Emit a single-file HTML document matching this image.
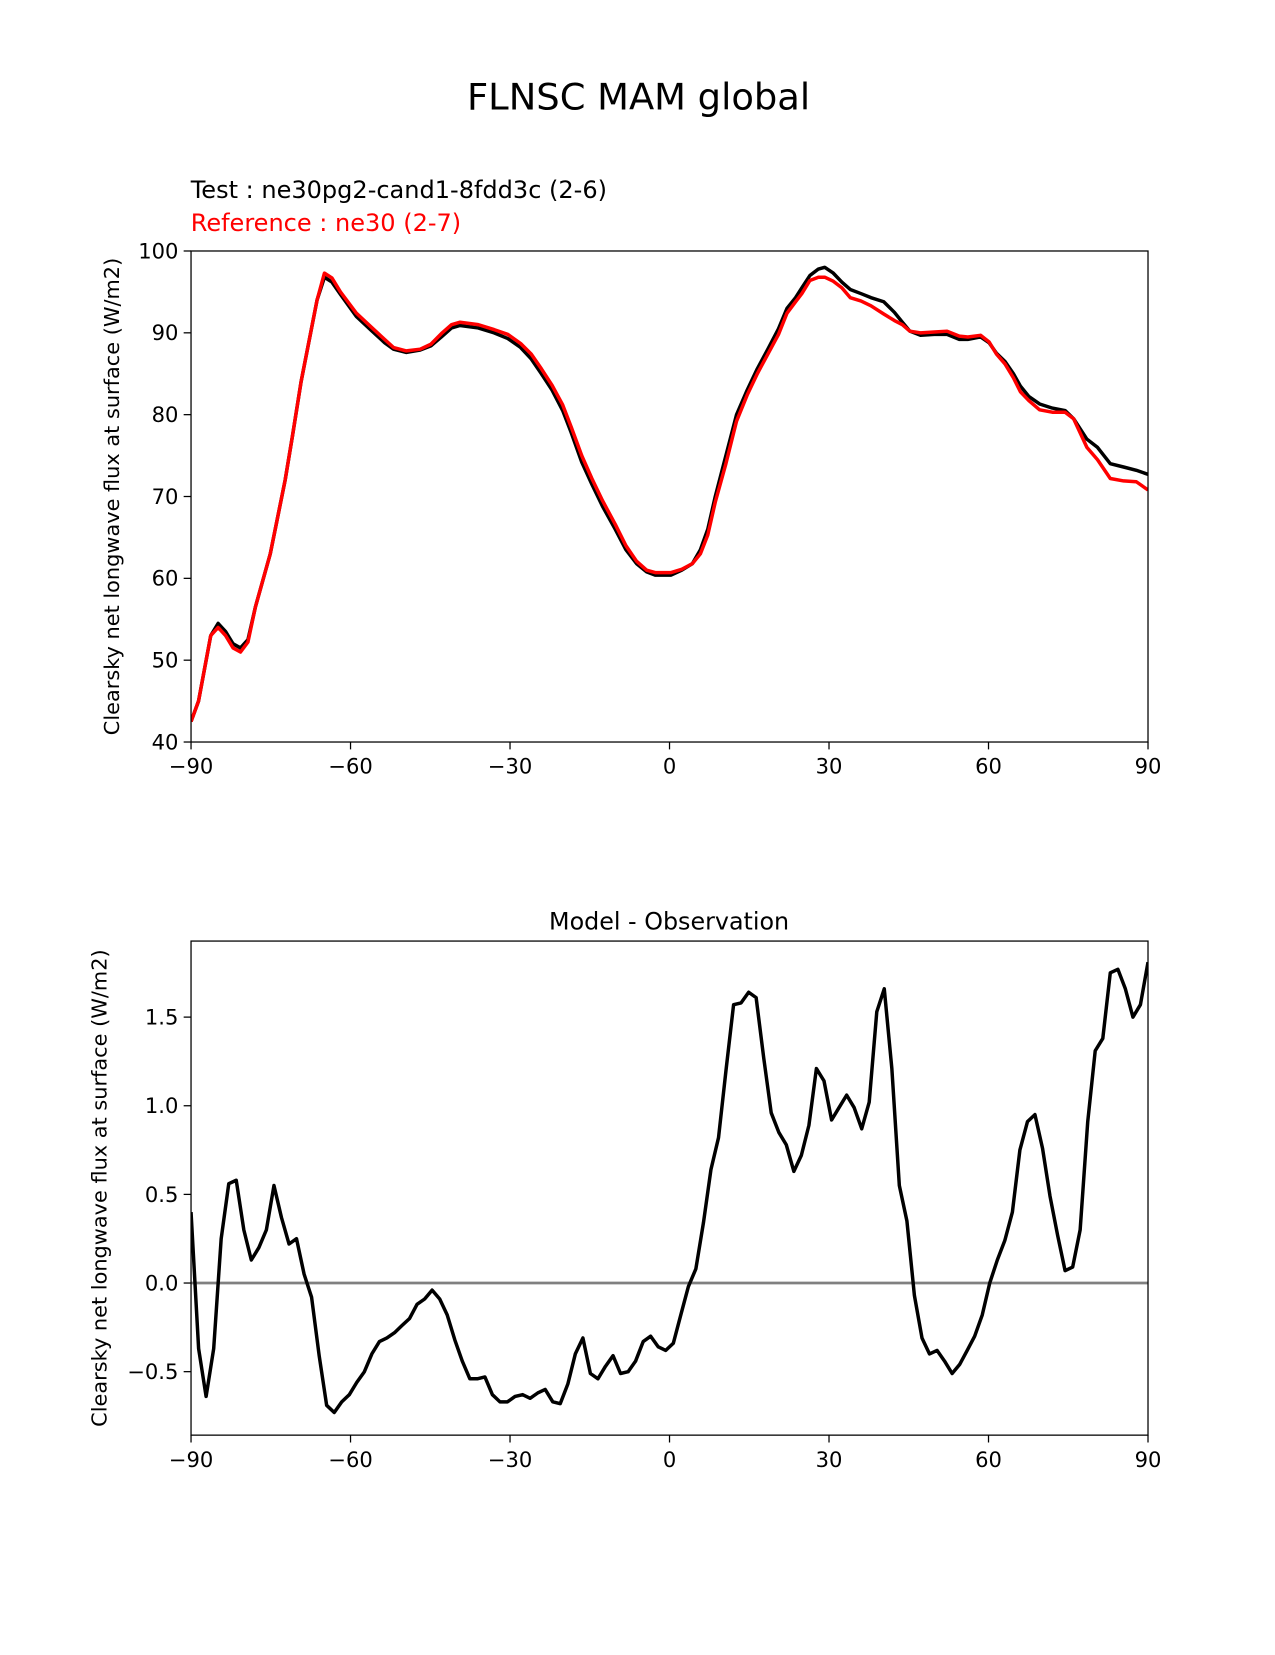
<!DOCTYPE html>
<html><head><meta charset="utf-8"><style>
body{margin:0;background:#fff;}
svg text{font-family:"DejaVu Sans","Liberation Sans",sans-serif;}
</style></head><body>
<svg id="fig" width="1275" height="1650" xmlns="http://www.w3.org/2000/svg">
<rect width="1275" height="1650" fill="#fff"/>
<g transform="scale(1.0537)">
<text x="606" y="104" font-size="35" text-anchor="middle">FLNSC MAM global</text>
<text x="181" y="188" font-size="22.8">Test : ne30pg2-cand1-8fdd3c (2-6)</text>
<text x="181" y="219" font-size="22.8" fill="#ff0000">Reference : ne30 (2-7)</text>
<text x="635" y="882" font-size="22.6" text-anchor="middle">Model - Observation</text>
<g id="top"></g>
<g id="bot"></g>
</g>
</svg>
<script>
const topLat=[-90,-88.6,-86.3,-84.9,-83.5,-82.1,-80.7,-79.3,-77.9,-75.1,-72.3,-70.9,-69.3,-66.3,-64.9,-63.5,-61.9,-58.9,-56.1,-53.6,-51.9,-49.5,-46.9,-44.9,-42.9,-41,-39.4,-36,-33,-30.4,-28,-26,-24.1,-22.1,-20.1,-18.5,-16.5,-14.6,-12.6,-10.2,-8.2,-6.2,-4.3,-2.7,0.3,2.3,4.3,5.8,7.2,8.6,10.6,12.6,14.6,16.5,18.5,20.5,22.1,23.7,24.9,26.4,28,29.2,30.8,32.4,34,36,37.9,40.3,42.3,43.8,45.2,47.2,49.8,52.2,54.5,56.1,58.5,60.1,61.5,63.1,64.7,66,67.6,69.6,72,74.4,76,78.5,80.5,82.9,85.4,87.8,90];
const testVals=[42.5,45,53,54.5,53.5,52,51.5,52.5,56.5,63,72,77.5,84,94,96.8,96.2,94.7,92,90.3,88.8,88,87.6,87.9,88.4,89.5,90.6,90.9,90.6,90,89.3,88.2,86.8,85,83,80.5,77.8,74.2,71.5,68.8,66,63.5,61.8,60.8,60.4,60.4,61,61.8,63.5,66,70,75,80,83,85.6,88,90.5,93,94.3,95.5,97,97.8,98,97.3,96.2,95.3,94.8,94.3,93.8,92.5,91.3,90.2,89.7,89.8,89.8,89.2,89.2,89.5,88.8,87.5,86.5,85,83.5,82.2,81.3,80.8,80.5,79.5,77,76,74,73.6,73.2,72.7];
const refVals=[42.5,45,53,54,53,51.5,51,52.2,56.5,63,72,77.5,84,94,97.3,96.7,95,92.4,90.7,89.2,88.2,87.8,88,88.6,89.9,91,91.3,91,90.4,89.8,88.7,87.4,85.6,83.6,81.2,78.5,75,72.2,69.5,66.6,64,62.1,61,60.7,60.7,61.1,61.8,63,65.3,69.3,74,79.2,82.4,85,87.4,89.8,92.4,93.8,94.8,96.4,96.8,96.8,96.3,95.5,94.3,93.9,93.3,92.3,91.5,91,90.2,90,90.1,90.2,89.6,89.5,89.7,88.9,87.4,86.2,84.5,82.8,81.7,80.6,80.3,80.3,79.5,76,74.5,72.2,71.9,71.8,70.8];
const diffVals=[0.40,-0.37,-0.64,-0.37,0.25,0.56,0.58,0.30,0.13,0.20,0.30,0.55,0.37,0.22,0.25,0.05,-0.08,-0.41,-0.69,-0.73,-0.67,-0.63,-0.56,-0.50,-0.40,-0.33,-0.31,-0.28,-0.24,-0.20,-0.12,-0.09,-0.04,-0.09,-0.18,-0.32,-0.44,-0.54,-0.54,-0.53,-0.63,-0.67,-0.67,-0.64,-0.63,-0.65,-0.62,-0.60,-0.67,-0.68,-0.57,-0.40,-0.31,-0.51,-0.54,-0.47,-0.41,-0.51,-0.50,-0.44,-0.33,-0.30,-0.36,-0.38,-0.34,-0.18,-0.02,0.08,0.34,0.64,0.82,1.20,1.57,1.58,1.64,1.61,1.27,0.96,0.85,0.78,0.63,0.72,0.89,1.21,1.14,0.92,0.99,1.06,0.99,0.87,1.02,1.53,1.66,1.21,0.55,0.35,-0.07,-0.31,-0.40,-0.38,-0.44,-0.51,-0.46,-0.38,-0.30,-0.18,0.00,0.13,0.24,0.40,0.75,0.91,0.95,0.76,0.49,0.27,0.07,0.09,0.30,0.91,1.31,1.38,1.75,1.77,1.66,1.50,1.57,1.81];
const xTicks=[-90,-60,-30,0,30,60,90];
const xTickLabels=["\u221290","\u221260","\u221230","0","30","60","90"];
const topYTicks=[40,50,60,70,80,90,100];
const botYTicks=[-0.5,0.0,0.5,1.0,1.5];
const botYTickLabels=["\u22120.5","0.0","0.5","1.0","1.5"];

const NS="http://www.w3.org/2000/svg";
function mk(parent,tag,attrs){const e=document.createElementNS(NS,tag);for(const k in attrs)e.setAttribute(k,attrs[k]);parent.appendChild(e);return e;}
const X0=181.3,X1=1089.5;
const xs=v=>X0+(v+90)/180*(X1-X0);
const TY0=238.2,TY1=704.2,BY0=893.1,BY1=1362;

function axes(g,y0,y1,vmin,vmax,yt,ytl,ylabel,name){
  const ys=v=>y1-(v-vmin)/(vmax-vmin)*(y1-y0);
  xTicks.forEach((t,i)=>{
    const l=mk(g,'line',{x1:xs(t),x2:xs(t),y1:y1,y2:y1+7,stroke:'#000','stroke-width':1.2});
    
    
    const tx=mk(g,'text',{x:xs(t),y:y1+30,'font-size':20,'text-anchor':'middle'});
    tx.textContent=xTickLabels[i];
    
    
  });
  yt.forEach((t,i)=>{
    const l=mk(g,'line',{x1:X0-7,x2:X0,y1:ys(t),y2:ys(t),stroke:'#000','stroke-width':1.2});
    
    
    const tx=mk(g,'text',{x:X0-12,y:ys(t)+7,'font-size':20,'text-anchor':'end'});
    tx.textContent=ytl[i];
    
    
  });
  const yl=mk(g,'text',{x:0,y:0,'font-size':19.8,'text-anchor':'middle',transform:`translate(${name==='top'?113:101},${(y0+y1)/2}) rotate(-90)`});
  yl.textContent=ylabel;
  
  
  return ys;
}
function line(g,lats,vals,ys,color,w,name){
  const d=lats.map((la,i)=>(i?'L':'M')+xs(la).toFixed(1)+','+ys(vals[i]).toFixed(1)).join('');
  const p=mk(g,'path',{d:d,fill:'none',stroke:color,'stroke-width':w,'stroke-linejoin':'round'});
  
  
}
const gt=document.getElementById('top');
const ysT=axes(gt,TY0,TY1,40,100,topYTicks,topYTicks.map(String),'Clearsky net longwave flux at surface (W/m2)','top');
const clipT=mk(gt,'clipPath',{id:'ct'});mk(clipT,'rect',{x:X0,y:TY0,width:X1-X0,height:TY1-TY0});
const gtl=mk(gt,'g',{'clip-path':'url(#ct)'});
line(gtl,topLat,testVals,ysT,'#000',3.3,'test-series-line');
line(gtl,topLat,refVals,ysT,'#ff0000',3.3,'reference-series-line');
mk(gt,'rect',{x:X0,y:TY0,width:X1-X0,height:TY1-TY0,fill:'none',stroke:'#000','stroke-width':1.2});

const gb=document.getElementById('bot');
const ysB=axes(gb,BY0,BY1,-0.858,1.929,botYTicks,botYTickLabels,'Clearsky net longwave flux at surface (W/m2)','bot');
const botLat=diffVals.map((_,i)=>-90+i*180/(diffVals.length-1));
const zl=mk(gb,'line',{x1:X0,x2:X1,y1:ysB(0),y2:ysB(0),stroke:'#808080','stroke-width':2.6});


const clipB=mk(gb,'clipPath',{id:'cb'});mk(clipB,'rect',{x:X0,y:BY0,width:X1-X0,height:BY1-BY0});
const gbl=mk(gb,'g',{'clip-path':'url(#cb)'});
line(gbl,botLat,diffVals,ysB,'#000',3.3,'difference-series-line');
mk(gb,'rect',{x:X0,y:BY0,width:X1-X0,height:BY1-BY0,fill:'none',stroke:'#000','stroke-width':1.2});
</script>
</body></html>
